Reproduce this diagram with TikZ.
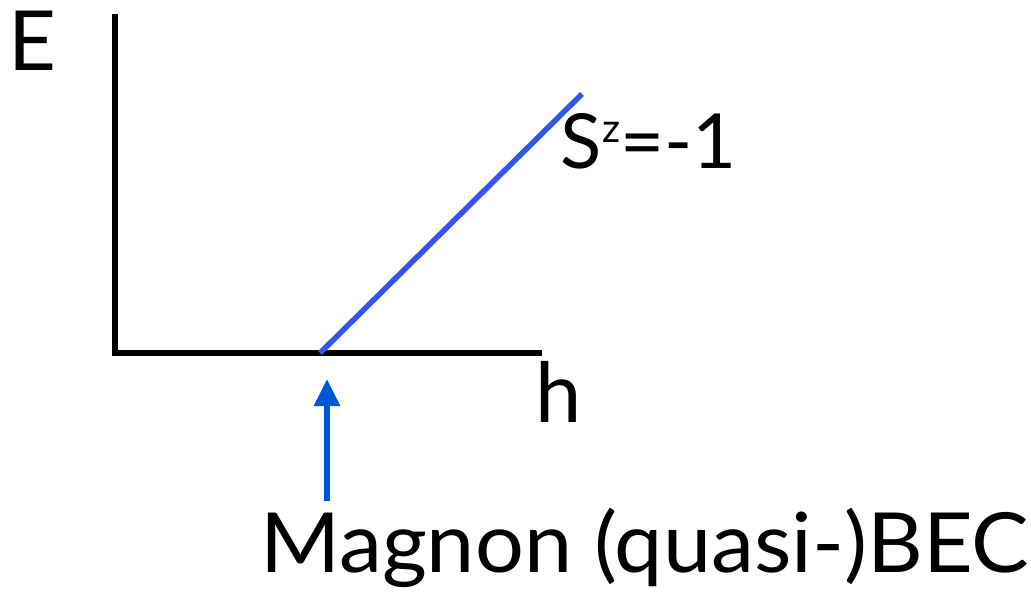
\documentclass[tikz,border=0pt]{standalone}
\usepackage{fontspec}
\setmainfont{Lato}
\newfontfamily\widefont{Lato}[FakeStretch=1.04]
\usetikzlibrary{arrows.meta}
\definecolor{lineblue}{HTML}{3355EE}
\definecolor{arrowblue}{HTML}{0055DD}
\tikzset{
  axis/.style={line width=6pt, black},
  lbl/.style={inner sep=0pt, anchor=base west, font=\fontsize{83}{90}\selectfont},
}
\begin{document}
\begin{tikzpicture}[x=1pt,y=-1pt]
\useasboundingbox (0,0) rectangle (1031,595);
\coordinate (top) at (115,14);
\coordinate (origin) at (115,353);
\coordinate (xend) at (542,353);
\coordinate (bstart) at (320,353);
\coordinate (bend) at (582,94);
\coordinate (atip) at (327,379);
\coordinate (abot) at (327,501);
\draw[axis] (top) -- (origin) -- (xend);
\draw[line width=5.5pt, lineblue] (bstart) -- (bend);
\draw[line width=6pt, arrowblue, -{Triangle[length=27pt,width=25pt]}] (abot) -- (atip);
\node[lbl] (E) at (8,70) {E};
\node[lbl] (h) at (535,422) {h};
\node[lbl, font=\fontsize{76}{84}\selectfont] (S) at (560,168) {S\kern1pt\raisebox{26pt}{\fontsize{40}{42}\selectfont z}=-1};
\node[lbl, font=\fontsize{83}{90}\selectfont\widefont] (M) at (260,572) {Magnon (quasi-)BEC};
\end{tikzpicture}
\end{document}
